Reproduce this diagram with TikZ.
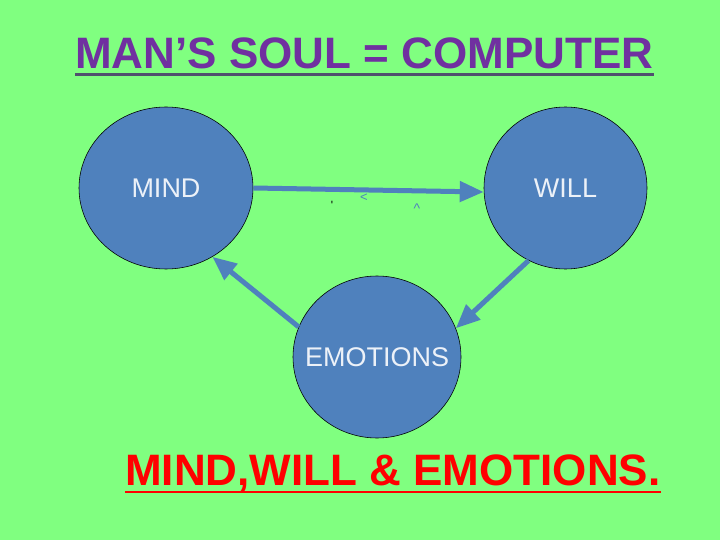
\documentclass[tikz,border=0pt]{standalone}
\usepackage{fontspec}
\setmainfont{Liberation Sans}
\usetikzlibrary{arrows.meta}
\usetikzlibrary{shapes.geometric}
\tikzset{>={Triangle[length=24pt,width=20pt]}}
\definecolor{slidegreen}{RGB}{128,255,128}
\definecolor{soulblue}{RGB}{79,129,189}
\definecolor{titlepurple}{RGB}{112,48,160}
\definecolor{ruledark}{RGB}{80,80,110}
\definecolor{bookred}{RGB}{255,0,0}
\definecolor{softwhite}{RGB}{236,241,248}
\tikzstyle{soulnode}=[ellipse,draw=black,line width=0.2mm,fill=soulblue,inner sep=0pt,label={[text=softwhite,font=\fontsize{27}{30}\selectfont]center:#1}]
\tikzstyle{blueline}=[draw=soulblue,line width=5pt]

\begin{document}
\begin{tikzpicture}[x=1pt,y=-1pt]
    \fill[slidegreen] (0,0) rectangle (720,540);
    \useasboundingbox (0,0) rectangle (720,540);

    \node[anchor=base west,inner sep=0pt,text=titlepurple,font=\fontsize{44}{50}\selectfont\bfseries] (title) at (75,68.5) {MAN’S SOUL = COMPUTER};
    \draw[ruledark,line width=2.5pt] ([yshift=-6pt]title.base west) -- ([yshift=-6pt]title.base east);

    \node[soulnode=MIND,minimum width=174pt,minimum height=162pt] (mind) at (166,188) {};
    \node[soulnode=WILL,minimum width=163pt,minimum height=162pt] (will) at (565.5,188) {};
    \node[soulnode=EMOTIONS,minimum width=168pt,minimum height=162pt] (emo) at (377,357) {};

    \draw[blueline,->] (mind.east) -- ([yshift=-4pt]will.west);
    \draw[blueline,->] (will.-117) -- (emo.20);
    \draw[blueline,->] (emo.159) -- (mind.-56);

    \node[font=\fontsize{12}{12}\selectfont,text=black,inner sep=0pt] (tick) at (332,205) {ʹ};
    \node[font=\fontsize{13}{13}\selectfont,text=soulblue,inner sep=0pt] (less) at (364,198) {<};
    \node[font=\fontsize{14}{14}\selectfont,text=soulblue,inner sep=0pt] (hat) at (417,209) {\^{}};

    \node[anchor=base west,inner sep=0pt,text=bookred,font=\fontsize{44}{50}\selectfont\bfseries] (motto) at (125,485) {MIND,WILL \& EMOTIONS.};
    \draw[bookred,line width=2.5pt] ([yshift=-7pt]motto.base west) -- ([yshift=-7pt]motto.base east);
\end{tikzpicture}
\end{document}
